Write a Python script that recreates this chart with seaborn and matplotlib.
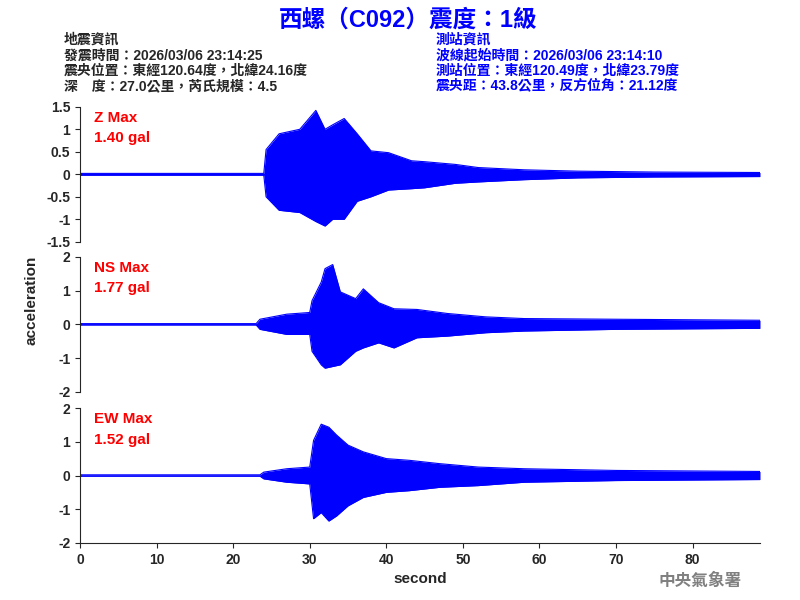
import numpy as np
import pandas as pd
import matplotlib
matplotlib.use("Agg")
import matplotlib.pyplot as plt
import seaborn as sns

sns.set_style("ticks")
plt.rcParams['font.family'] = ['Liberation Sans', 'Noto Sans CJK TC', 'DejaVu Sans']
plt.rcParams['font.weight'] = 'bold'

# Envelope of each trace (seconds, upper, lower)
z_t = [0, 24.0, 24.3, 26, 28.7, 30.8, 32, 33, 34.5, 36.2, 38, 40.3, 43.3, 45, 49, 52, 58, 65, 75, 88.8]
z_up = [0.02, 0.02, 0.55, 0.9, 1.0, 1.42, 1.0, 1.1, 1.24, 0.9, 0.52, 0.48, 0.3, 0.28, 0.22, 0.15, 0.1, 0.07, 0.05, 0.04]
z_lo = [-0.02, -0.02, -0.5, -0.8, -0.85, -1.05, -1.15, -1.0, -1.0, -0.6, -0.5, -0.35, -0.32, -0.3, -0.2, -0.17, -0.12, -0.08, -0.06, -0.05]

ns_t = [0, 23.0, 23.5, 27, 30, 30.3, 31.5, 32, 33, 34, 36, 37, 39, 41, 44, 48, 53, 58, 70, 88.8]
ns_up = [0.02, 0.02, 0.15, 0.3, 0.35, 0.7, 1.25, 1.65, 1.77, 0.96, 0.76, 1.05, 0.64, 0.46, 0.44, 0.32, 0.22, 0.17, 0.15, 0.12]
ns_lo = [-0.02, -0.02, -0.15, -0.3, -0.3, -0.8, -1.2, -1.3, -1.25, -1.2, -0.8, -0.7, -0.55, -0.7, -0.4, -0.35, -0.25, -0.2, -0.15, -0.12]

ew_t = [0, 23.5, 24, 27, 30, 30.5, 31.5, 32.5, 33.5, 35, 37, 40, 43, 47, 52, 58, 70, 88.8]
ew_up = [0.02, 0.02, 0.1, 0.2, 0.25, 1.04, 1.52, 1.43, 1.2, 0.9, 0.7, 0.5, 0.45, 0.35, 0.25, 0.2, 0.15, 0.12]
ew_lo = [-0.02, -0.02, -0.1, -0.2, -0.25, -1.28, -1.1, -1.35, -1.2, -0.9, -0.65, -0.5, -0.45, -0.35, -0.3, -0.2, -0.15, -0.12]

labels = ["Z Max\n1.40 gal", "NS Max\n1.77 gal", "EW Max\n1.52 gal"]
ylims = [(-1.5, 1.5), (-2, 2), (-2, 2)]
yticks = [[-1.5, -1, -0.5, 0, 0.5, 1, 1.5], [-2, -1, 0, 1, 2], [-2, -1, 0, 1, 2]]
ytl = [["-1.5", "-1", "-0.5", "0", "0.5", "1", "1.5"], ["-2", "-1", "0", "1", "2"], ["-2", "-1", "0", "1", "2"]]

fig = plt.figure(figsize=(8, 6), dpi=100)
bottoms = [0.597, 0.347, 0.095]
traces = [(z_t, z_up, z_lo), (ns_t, ns_up, ns_lo), (ew_t, ew_up, ew_lo)]

for i in range(3):
    ax = fig.add_axes([0.1, bottoms[i], 0.85, 0.225])
    t, up, lo = traces[i]
    df = pd.DataFrame({"t": t, "up": up, "lo": lo})
    ax.fill_between(df["t"], df["lo"], df["up"], color="blue", lw=0)
    sns.lineplot(data=df, x="t", y="up", ax=ax, color="blue", lw=0.8)
    sns.lineplot(data=df, x="t", y="lo", ax=ax, color="blue", lw=0.8)
    ax.set_xlim(0, 88.8)
    ax.set_ylim(*ylims[i])
    ax.set_yticks(yticks[i])
    ax.set_yticklabels(ytl[i], fontsize=10, fontweight="bold")
    ax.set_xlabel("")
    ax.set_ylabel("")
    ax.text(0.02, 0.97, labels[i], transform=ax.transAxes, color="red",
            fontsize=11, va="top", linespacing=1.6, fontweight="bold")
    sns.despine(ax=ax, bottom=(i < 2))
    if i < 2:
        ax.set_xticks([])
    else:
        ax.set_xticks(range(0, 90, 10))
        ax.set_xticklabels([str(v) for v in range(0, 90, 10)], fontsize=10, fontweight="bold")
        ax.set_xlabel("second", fontsize=11, fontweight="bold")

fig.text(0.04, 0.5, "acceleration", rotation=90, va="center", ha="center", fontsize=11, fontweight="bold")
fig.text(0.51, 0.967, "西螺（C092）震度：1級", color="blue", fontsize=17, fontweight="bold",
         ha="center", va="center")
left = "地震資訊\n發震時間：2026/03/06 23:14:25\n震央位置：東經120.64度，北緯24.16度\n深　度：27.0公里，芮氏規模：4.5"
right = "測站資訊\n波線起始時間：2026/03/06 23:14:10\n測站位置：東經120.49度，北緯23.79度\n震央距：43.8公里，反方位角：21.12度"
fig.text(0.08, 0.945, left, fontsize=10, va="top", linespacing=1.12, fontweight="bold")
fig.text(0.545, 0.945, right, fontsize=10, va="top", color="blue", linespacing=1.12, fontweight="bold")
fig.text(0.875, 0.032, "中央氣象署", fontsize=12, color="gray", ha="center", va="center", fontweight="bold")

fig.savefig("out.png", dpi=100)
